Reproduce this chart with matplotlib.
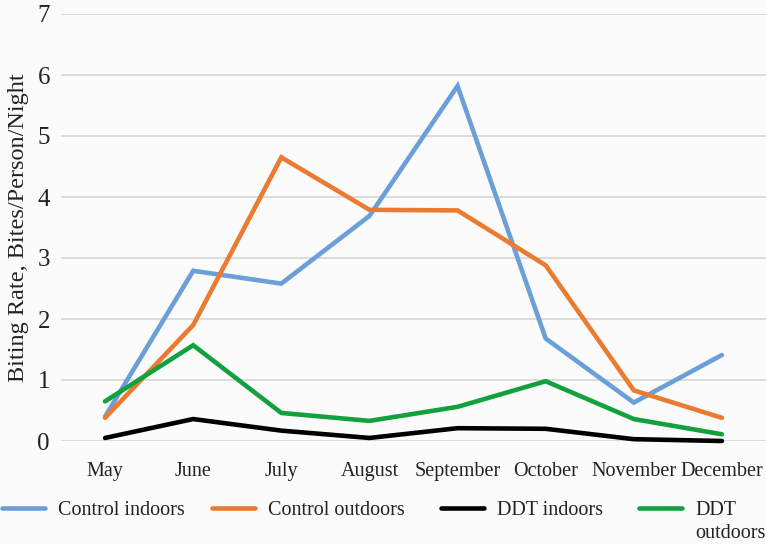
import matplotlib
matplotlib.use("Agg")
import matplotlib.pyplot as plt
from matplotlib.lines import Line2D

months = ["May", "June", "July", "August", "September", "October", "November", "December"]
control_indoors = [0.40, 2.79, 2.58, 3.69, 5.82, 1.68, 0.63, 1.41]
control_outdoors = [0.38, 1.90, 4.65, 3.79, 3.78, 2.88, 0.83, 0.38]
ddt_indoors = [0.05, 0.36, 0.17, 0.05, 0.21, 0.20, 0.03, 0.00]
ddt_outdoors = [0.65, 1.57, 0.46, 0.33, 0.56, 0.98, 0.36, 0.11]

series = [
    ("Control indoors", control_indoors, "#6b9fd8"),
    ("Control outdoors", control_outdoors, "#ea7b30"),
    ("DDT indoors", ddt_indoors, "#000000"),
    ("DDT outdoors", ddt_outdoors, "#12a13e"),
]

plt.rcParams["font.family"] = ["Liberation Serif", "DejaVu Serif"]
bg = "#fbfbfb"
txt = "#222222"

fig = plt.figure(figsize=(7.66, 5.44), dpi=100, facecolor=bg)
ax = fig.add_axes([61 / 766, 1 - 441 / 544, 705 / 766, 427 / 544], facecolor=bg)

x = list(range(len(months)))
for name, vals, color in series:
    ax.plot(x, vals, color=color, lw=3.3, solid_capstyle="round",
            solid_joinstyle="miter", clip_on=False, zorder=3)

ax.set_xlim(-0.5, len(months) - 0.5)
ax.set_ylim(0, 7)
ax.set_yticks(range(8))
ax.set_xticks(x)
ax.set_xticklabels(months, fontsize=14.5, color=txt)
ax.tick_params(axis="y", labelsize=18, length=0, pad=8, colors=txt)
ax.tick_params(axis="x", length=0, pad=15, colors=txt)
ax.grid(axis="y", color="#d9d9d9", lw=1.3, zorder=0)
for s in ax.spines.values():
    s.set_visible(False)
ax.set_ylabel("Biting Rate, Bites/Person/Night", fontsize=17.5, color=txt, labelpad=6)

# legend drawn by hand so the wrapped "DDT outdoors" label lines up like the original
leg_y = 1 - 508 / 544
base1 = 1 - 515 / 544
base2 = 1 - 538 / 544
starts = [2, 212, 441, 639]
for (name, vals, color), x0 in zip(series, starts):
    fig.add_artist(Line2D([x0 / 766, (x0 + 43) / 766], [leg_y, leg_y], color=color,
                          lw=3.3, solid_capstyle="round", transform=fig.transFigure))
    lines = ["DDT", "outdoors"] if name == "DDT outdoors" else [name]
    for line, base in zip(lines, [base1, base2]):
        fig.text((x0 + 56) / 766, base, line, fontsize=14.5, color=txt,
                 va="baseline", ha="left")

fig.savefig("out.png", dpi=100, facecolor=bg)
